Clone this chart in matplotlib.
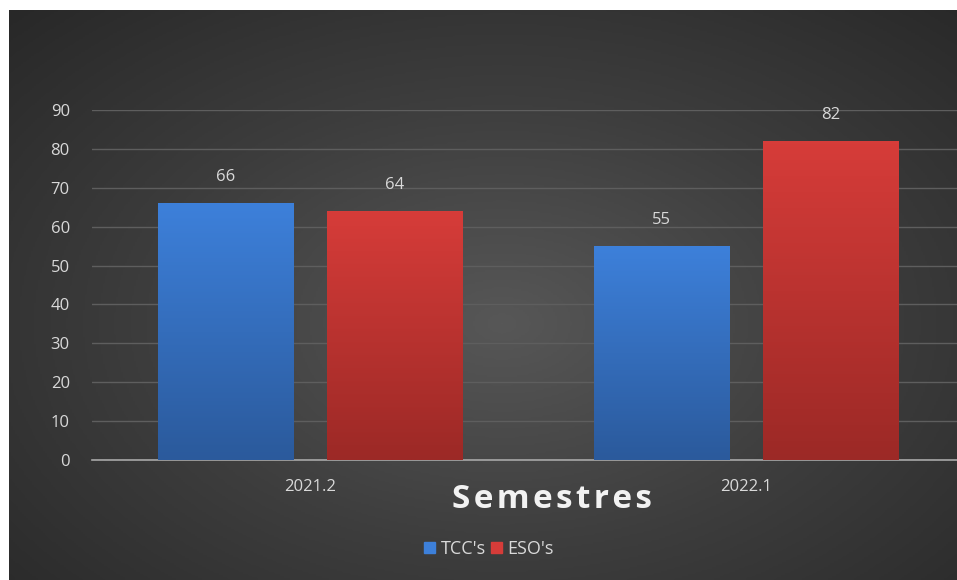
import numpy as np
import matplotlib.pyplot as plt
from matplotlib.colors import LinearSegmentedColormap
from matplotlib.patches import Rectangle

# ---------------------------------------------------------------------
# Data
# ---------------------------------------------------------------------
semestres = ["2021.2", "2022.1"]
tccs = [66, 55]
esos = [64, 82]
series_names = ["TCC's", "ESO's"]
y_ticks = [0, 10, 20, 30, 40, 50, 60, 70, 80, 90]

TEXT = "#d9d9d9"
BLUE_TOP, BLUE_BOT = "#3d80da", "#2b5a9c"
RED_TOP, RED_BOT = "#d63c39", "#9c2926"

W, H = 957, 580
fig = plt.figure(figsize=(W / 100, H / 100), dpi=100, facecolor="white")
plt.rcParams["font.family"] = ["Open Sans", "DejaVu Sans"]

# radial gradient background (chart area)
bg = fig.add_axes([9 / W, 0, 1 - 9 / W, 570 / H])
yy, xx = np.mgrid[0:1:300j, 0:1:500j]
r = np.sqrt(((xx - 0.52) / 0.75) ** 2 + ((yy - 0.45) / 0.8) ** 2)
bg_cmap = LinearSegmentedColormap.from_list("bg", ["#575757", "#3d3d3d", "#272727"])
bg.imshow(np.clip(r, 0, 1), cmap=bg_cmap, aspect="auto", vmin=0, vmax=1,
          extent=[0, 1, 0, 1], origin="lower")
bg.set_axis_off()

# plot area
ax_left = 92 / W
ax = fig.add_axes([ax_left, (H - 460) / H, 1 - ax_left, 350 / H])
ax.patch.set_alpha(0)
cat_px = 436

x = np.arange(len(semestres))
bw = 0.31
off = 0.194


def gradient_bars(bars, top, bot):
    cmap = LinearSegmentedColormap.from_list("g", [bot, top])
    grad = np.linspace(0, 1, 100).reshape(-1, 1)
    for b in bars:
        x0, y0 = b.get_x(), b.get_y()
        im = ax.imshow(grad, cmap=cmap, aspect="auto", origin="lower",
                       extent=[x0, x0 + b.get_width(), y0, y0 + b.get_height()],
                       zorder=3)
        im.set_clip_path(b)
        b.set_facecolor("none")


b1 = ax.bar(x - off, tccs, bw, color=BLUE_TOP, zorder=3, label=series_names[0])
b2 = ax.bar(x + off, esos, bw, color=RED_TOP, zorder=3, label=series_names[1])
gradient_bars(b1, BLUE_TOP, BLUE_BOT)
gradient_bars(b2, RED_TOP, RED_BOT)
ax.set_xlim(-0.5, -0.5 + (W - 92) / cat_px)
ax.set_ylim(0, 90)

for bars, vals in ((b1, tccs), (b2, esos)):
    for b, v in zip(bars, vals):
        ax.annotate(str(v), (b.get_x() + b.get_width() / 2, v),
                    xytext=(0, 13), textcoords="offset points",
                    ha="center", va="bottom", color=TEXT, fontsize=12,
                    annotation_clip=False)

ax.set_yticks(y_ticks)
ax.yaxis.grid(True, color="#5e5e5e", linewidth=1)
ax.set_axisbelow(True)
ax.tick_params(axis="y", length=0, pad=16, colors=TEXT, labelsize=12)
ax.set_xticks(x)
ax.set_xticklabels(semestres)
ax.tick_params(axis="x", length=0, pad=14, colors=TEXT, labelsize=12)
for s in ("top", "right", "left"):
    ax.spines[s].set_visible(False)
ax.spines["bottom"].set_color("#a8a8a8")
ax.spines["bottom"].set_linewidth(1.2)

fig.text(552 / W, 1 - 499 / H, "\u200a".join("Semestres"),
         ha="center", va="center", color="#f2f2f2", fontsize=24, fontweight="bold")

leg = fig.legend(handles=[Rectangle((0, 0), 1, 1, color=BLUE_TOP),
                          Rectangle((0, 0), 1, 1, color=RED_TOP)],
                 labels=series_names, loc="center", bbox_to_anchor=(489 / W, 1 - 549 / H),
                 ncol=2, frameon=False, fontsize=13, labelcolor=TEXT,
                 handlelength=0.6, handleheight=0.6, handletextpad=0.3, columnspacing=0.3)

fig.savefig("out.png", dpi=100, facecolor="white")
